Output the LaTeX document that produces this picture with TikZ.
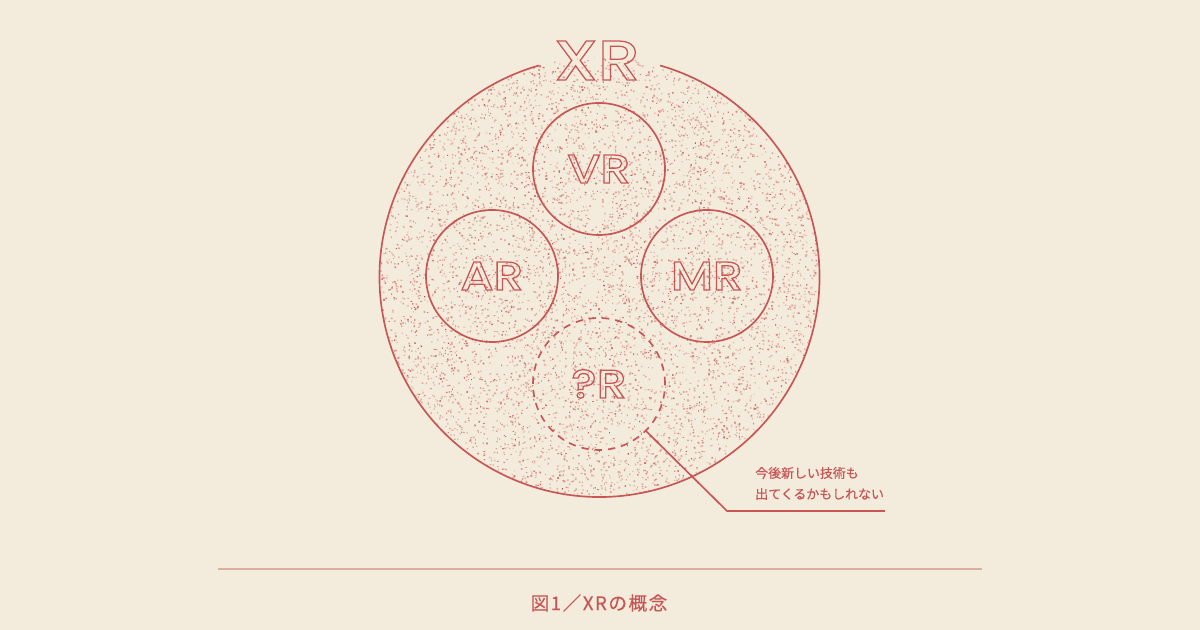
\documentclass[tikz,border=0pt]{standalone}
\usepackage{fontspec}
\setmainfont{Poppins}
\newfontfamily\lblfont[FakeStretch=1.19]{Poppins Medium}
\newfontfamily\cjk[FakeBold=0.4]{Noto Sans CJK JP}
\newfontfamily\cjkcap[FakeBold=0.3,LetterSpace=8]{Noto Sans CJK JP}
\newcommand{\outl}[1]{\special{pdf:code q 1 Tr 0.95 w 0.78 0.34 0.33 RG}{\lblfont #1}\special{pdf:code Q}}
\definecolor{paper}{HTML}{F3EBDC}
\definecolor{ink}{HTML}{C75755}
\definecolor{dotlight}{HTML}{E2A79C}
\definecolor{dotmid}{HTML}{D47F76}
\definecolor{rulecol}{HTML}{DDADA2}
\tikzset{
 sub/.style={circle,inner sep=0,outer sep=0,minimum size=99pt,draw=ink,line width=1.25pt},
 dashsub/.style={sub,dash pattern=on 5.5pt off 4.5pt},
 wrap/.style={circle,inner sep=0,outer sep=0,minimum size=330pt},
 ring/.style={draw=ink,line width=1.25pt},
 leader/.style={draw=ink,line width=1.25pt},
 big/.style={inner sep=0,font=\fontsize{42}{42}\selectfont},
 mid/.style={inner sep=0,font=\fontsize{30}{30}\selectfont},
 note/.style={inner sep=0,anchor=west,text=ink,font=\cjk\fontsize{9.7}{12}\selectfont},
 captext/.style={inner sep=0,text=ink,font=\cjkcap\fontsize{14}{16}\selectfont},
}
\begin{document}
\begin{tikzpicture}[x=.75pt,y=.75pt]
\useasboundingbox (0,0) rectangle (1200,630);
\fill[paper] (0,0) rectangle (1200,630);
\node[wrap] (main) at (599.5,353) {};
\begin{scope}
\clip (599.5,353) circle[radius=220];
\pgfmathsetseed{7}
\foreach \j in {1,...,120}{\fill[dotlight] \foreach \i in {1,...,50}{(379.5+440*rnd,133+440*rnd) rectangle ++({.8+1.1*rnd},{.8+1.1*rnd})};}
\foreach \j in {1,...,40}{\fill[dotmid] \foreach \i in {1,...,50}{(379.5+440*rnd,133+440*rnd) rectangle ++({.8+1.1*rnd},{.8+1.1*rnd})};}
\foreach \j in {1,...,10}{\fill[ink] \foreach \i in {1,...,50}{(379.5+440*rnd,133+440*rnd) rectangle ++({.7+.7*rnd},{.7+.7*rnd})};}
\end{scope}
\draw[ring] (main.106) arc[start angle=106,end angle=434,radius=220];
\node[sub] (vr) at (599,461) {};
\node[sub] (ar) at (492,354) {};
\node[sub] (mr) at (707,354) {};
\node[dashsub] (qr) at (599,246) {};
\node[big] (xrl) at (597,569.5) {\outl{XR}};
\node[mid] (vrl) at (vr) {\outl{VR}};
\node[mid] (arl) at (ar) {\outl{AR}};
\node[mid] (mrl) at (mr) {\outl{MR}};
\node[mid] (qrl) at (qr) {\outl{?R}};
\coordinate (elbow) at (727,119);
\coordinate (lend) at (885,119);
\draw[leader] (qr.-45) -- (elbow) -- (lend);
\node[note] (n1) at (755,157) {今後新しい技術も};
\node[note] (n2) at (755,136) {出てくるかもしれない};
\coordinate (ra) at (218,61);
\coordinate (rb) at (982,61);
\draw[draw=rulecol,line width=1pt] (ra) -- (rb);
\node[captext] (c) at (599,27) {図1／XRの概念};
\end{tikzpicture}
\end{document}
